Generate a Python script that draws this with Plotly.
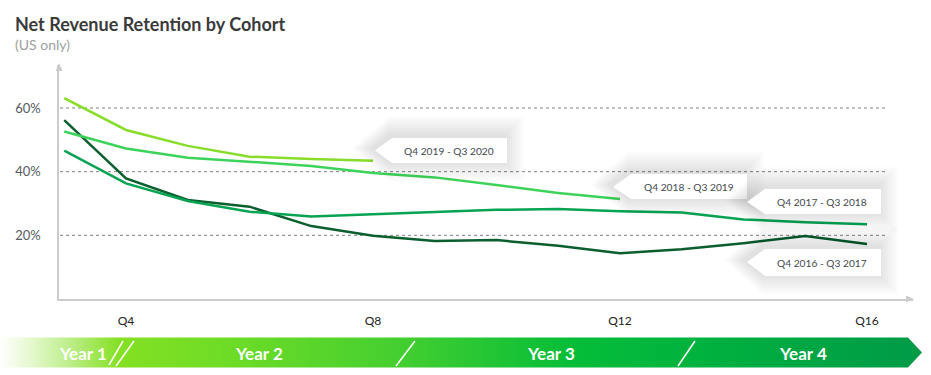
import plotly.graph_objects as go

# ---------------- data ----------------
cohorts = ["Q4 2016 - Q3 2017", "Q4 2017 - Q3 2018", "Q4 2018 - Q3 2019", "Q4 2019 - Q3 2020"]
quarters_2016 = [3, 4, 5, 6, 7, 8, 9, 10, 11, 12, 13, 14, 15, 16]
nrr_2016 = [0.562, 0.379, 0.311, 0.290, 0.229, 0.199, 0.182, 0.185, 0.167, 0.144, 0.156, 0.175, 0.198, 0.173]
quarters_2017 = [3, 4, 5, 6, 7, 8, 9, 10, 11, 12, 13, 14, 15, 16]
nrr_2017 = [0.466, 0.363, 0.308, 0.274, 0.259, 0.267, 0.273, 0.280, 0.283, 0.276, 0.272, 0.250, 0.241, 0.235]
quarters_2018 = [3, 4, 5, 6, 7, 8, 9, 10, 11, 12]
nrr_2018 = [0.526, 0.473, 0.444, 0.431, 0.418, 0.396, 0.382, 0.358, 0.333, 0.314]
quarters_2019 = [3, 4, 5, 6, 7, 8]
nrr_2019 = [0.631, 0.531, 0.481, 0.447, 0.440, 0.434]

colors = ["#0b5e2e", "#06a352", "#3dd35a", "#88dc2a"]

x_tickvals = [4, 8, 12, 16]
x_ticktext = ["Q4", "Q8", "Q12", "Q16"]
y_tickvals = [0.2, 0.4, 0.6]
y_ticktext = ["20%", "40%", "60%"]

years = ["Year 1", "Year 2", "Year 3", "Year 4"]

FONT = "Lato"
W, H = 931, 375

fig = go.Figure()

series = [(quarters_2016, nrr_2016), (quarters_2017, nrr_2017),
          (quarters_2018, nrr_2018), (quarters_2019, nrr_2019)]
for (xs, ys), name, c in zip(series, cohorts, colors):
    fig.add_trace(go.Scatter(x=xs, y=ys, mode="lines", name=name,
                             line=dict(color=c, width=2.5), showlegend=False,
                             xaxis="x", yaxis="y"))

# Banner with gradient (pixel coordinate overlay axes)
fig.add_trace(go.Scatter(
    x=[0, 908, 922, 908, 0, 0], y=[337.5, 337.5, 352.5, 367.5, 367.5, 337.5],
    mode="lines", fill="toself", line=dict(width=0), hoverinfo="skip", showlegend=False,
    fillgradient=dict(type="horizontal", start=0, stop=922, colorscale=[
        [0.0, "#ffffff"], [0.035, "#e4f8cc"], [0.075, "#bdee8a"], [0.13, "#84e022"],
        [0.25, "#6ddc26"], [0.43, "#45cf30"], [0.62, "#06bd38"], [0.75, "#00b33e"],
        [1.0, "#009a48"]]),
    xaxis="x2", yaxis="y2"))

shapes = []
# dotted gridlines
for v in y_tickvals:
    shapes.append(dict(type="line", xref="x2", yref="y", x0=60, x1=888,
                       y0=v, y1=v, line=dict(color="#808080", width=1, dash="dot"), layer="below"))

# axis arrowheads (pixel coords)
shapes.append(dict(type="path", xref="x2", yref="y2",
                   path="M 55.5 71 L 59 63 L 62.5 71 Z", fillcolor="#cccccc", line=dict(width=0)))
shapes.append(dict(type="path", xref="x2", yref="y2",
                   path="M 906 295.5 L 914 299 L 906 302.5 Z", fillcolor="#cccccc", line=dict(width=0)))

# callouts: (tip_x, tip_y, box_left, box_right, top, bottom, text_cx, text)
callouts = [
    (375, 150.5, 392, 507, 138, 163, 449, cohorts[3]),
    (613, 187, 631, 747, 174, 199, 689, cohorts[2]),
    (747, 202, 765, 881, 189, 214, 822, cohorts[1]),
    (747, 262, 765, 881, 249, 276, 822, cohorts[0]),
]


def pent(tx, ty, bl, br, top, bot, e=0.0, dx=0.0, dy=0.0):
    return (f"M {tx - e + dx} {ty + dy} L {bl + dx} {top - e + dy} L {br + e + dx} {top - e + dy} "
            f"L {br + e + dx} {bot + e + dy} L {bl + dx} {bot + e + dy} Z")


annotations = []
for tx, ty, bl, br, top, bot, cx, txt in callouts:
    for e in [20, 18, 16, 14, 12, 10, 8, 6, 4, 2]:
        shapes.append(dict(type="path", xref="x2", yref="y2", path=pent(tx, ty, bl, br, top, bot, e, -3, -2),
                           fillcolor="rgba(0,0,0,0.011)", line=dict(width=0), layer="above"))
    shapes.append(dict(type="path", xref="x2", yref="y2", path=pent(tx, ty, bl, br, top, bot),
                       fillcolor="#ffffff", line=dict(width=0), layer="above"))
    annotations.append(dict(xref="x2", yref="y2", x=cx, y=(top + bot) / 2, text=txt, showarrow=False,
                            font=dict(family=FONT, size=10.2, color="#3f4850"),
                            xanchor="center", yanchor="middle"))

# banner slashes
for (x0, y0, x1, y1) in [(109, 365, 123, 341), (116, 366, 134, 341), (396, 366, 415, 341), (678, 366, 695, 341)]:
    shapes.append(dict(type="line", xref="x2", yref="y2", x0=x0, y0=y0, x1=x1, y1=y1,
                       line=dict(color="#ffffff", width=1.5)))

for yr, cx in zip(years, [83, 259, 551, 803]):
    annotations.append(dict(xref="x2", yref="y2", x=cx, y=353, text=f"<b>{yr}</b>", showarrow=False,
                            font=dict(family=FONT, size=17, color="#ffffff"),
                            xanchor="center", yanchor="middle"))

annotations.append(dict(xref="x2", yref="y2", x=13, y=24, text="<b>Net Revenue Retention by Cohort</b>",
                        showarrow=False, xanchor="left", yanchor="middle",
                        font=dict(family=FONT, size=18, color="#3a3a3a")))
annotations.append(dict(xref="x2", yref="y2", x=13, y=44, text="(US only)",
                        showarrow=False, xanchor="left", yanchor="middle",
                        font=dict(family=FONT, size=14, color="#a0a0a0")))

fig.update_layout(
    width=W, height=H, margin=dict(l=0, r=0, t=0, b=0),
    paper_bgcolor="#ffffff", plot_bgcolor="rgba(0,0,0,0)",
    shapes=shapes, annotations=annotations,
    xaxis=dict(domain=[59 / W, 913 / W], range=[2.915, 16.745], tickvals=x_tickvals, ticktext=x_ticktext,
               showgrid=False, zeroline=False, showline=True, linecolor="#cccccc", linewidth=1.5,
               ticks="", ticklabelstandoff=10, tickfont=dict(family=FONT, size=12, color="#222222"),
               anchor="y"),
    yaxis=dict(domain=[76 / H, 310 / H], range=[0, 0.735], tickvals=y_tickvals, ticktext=y_ticktext,
               showgrid=False, zeroline=False, showline=True, linecolor="#cccccc", linewidth=1.5,
               ticks="", ticklabelstandoff=14, tickfont=dict(family=FONT, size=13, color="#555a60"),
               anchor="x"),
    xaxis2=dict(domain=[0, 1], range=[0, W], visible=False, anchor="y2", fixedrange=True),
    yaxis2=dict(domain=[0, 1], range=[H, 0], visible=False, anchor="x2", fixedrange=True),
)

fig.write_html("out.html", config={"displayModeBar": False},
               post_script="document.body.style.margin='0';document.body.style.padding='0';"
                           "document.body.style.overflow='hidden';")
